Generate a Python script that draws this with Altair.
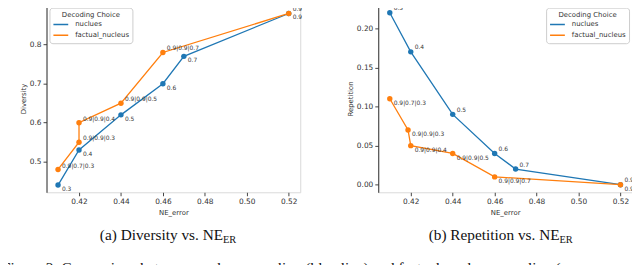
import altair as alt
import pandas as pd

# ---------------- data ----------------
series_names = ["nuclues", "factual_nucleus"]
series_colors = ["#1f77b4", "#ff7f0e"]

ne_nuc = [0.41, 0.42, 0.44, 0.46, 0.47, 0.52]
lab_nuc = ["0.3", "0.4", "0.5", "0.6", "0.7", "0.9"]
div_nuc = [0.44, 0.53, 0.62, 0.70, 0.77, 0.88]
rep_nuc = [0.22, 0.17, 0.09, 0.04, 0.02, 0.00]

lab_fac = ["0.9|0.7|0.3", "0.9|0.9|0.3", "0.9|0.9|0.4", "0.9|0.9|0.5", "0.9|0.9|0.7", "0.9"]
ne_fac_div = [0.41, 0.42, 0.42, 0.44, 0.46, 0.52]
div_fac = [0.48, 0.55, 0.60, 0.65, 0.78, 0.88]
ne_fac_rep = [0.41, 0.4187, 0.42, 0.44, 0.46, 0.52]
rep_fac = [0.11, 0.07, 0.05, 0.04, 0.01, 0.00]

x_ticks = [0.42, 0.44, 0.46, 0.48, 0.50, 0.52]
div_ticks = [0.5, 0.6, 0.7, 0.8, 0.9]
rep_ticks = [0.00, 0.05, 0.10, 0.15, 0.20]

cap_a = "(a) Diversity vs. NE"
cap_b = "(b) Repetition vs. NE"
cap_sub = "ER"
fig_caption = ("Figure 2: Comparison between nucleus sampling (blue line) and "
               "factual-nucleus sampling (orange line)")

W, H = 257, 190
FONT = "DejaVu Sans"
SERIF = "Liberation Serif"


def make_df(ne_a, val_a, lab_a, ne_b, val_b, lab_b):
    rows = []
    for i, (n, v, l) in enumerate(zip(ne_a, val_a, lab_a)):
        rows.append({"ne": n, "val": v, "label": l, "series": series_names[0], "idx": i})
    for i, (n, v, l) in enumerate(zip(ne_b, val_b, lab_b)):
        rows.append({"ne": n, "val": v, "label": l, "series": series_names[1], "idx": i})
    return pd.DataFrame(rows)


def anchor(xpos):
    # invisible frame rule: fixes the outer bounds of the drawing
    return alt.Chart(pd.DataFrame({"a": [0]})).mark_rule(
        opacity=0, strokeWidth=1
    ).encode(x=alt.value(xpos), x2=alt.value(xpos), y=alt.value(-20), y2=alt.value(290))


def panel(df, ydom, yticks, yfmt, ytitle, legend_orient, dy_nuc, dy_fac,
          cap_text, cap_x, extra):
    x = alt.X("ne:Q", title="NE_error",
              scale=alt.Scale(domain=[0.4045, 0.5255], nice=False, zero=False),
              axis=alt.Axis(values=x_ticks, format=".2f", domain=False))
    y = alt.Y("val:Q", title=ytitle,
              scale=alt.Scale(domain=ydom, nice=False, zero=False),
              axis=alt.Axis(values=yticks, format=yfmt, domainColor="#333"))
    color = alt.Color(
        "series:N",
        scale=alt.Scale(domain=series_names, range=series_colors),
        legend=alt.Legend(title="Decoding Choice", orient=legend_orient, offset=3),
    )
    base = alt.Chart(df)
    line = base.mark_line(strokeWidth=1.3).encode(x=x, y=y, color=color, order="idx:Q")
    pts = base.mark_point(filled=True, size=30, opacity=1).encode(x=x, y=y, color=color)
    txt_n = base.transform_filter(alt.datum.series == series_names[0]).mark_text(
        align="left", baseline="middle", dx=4, dy=dy_nuc, fontSize=6, font=FONT, color="#333"
    ).encode(x=x, y=y, text="label:N")
    txt_f = base.transform_filter(alt.datum.series == series_names[1]).mark_text(
        align="left", baseline="middle", dx=4, dy=dy_fac, fontSize=6, font=FONT, color="#333"
    ).encode(x=x, y=y, text="label:N")

    one = pd.DataFrame({"t": [cap_text], "s": [cap_sub]})
    top_rule = alt.Chart(one).mark_rule(color="#333", strokeWidth=1).encode(
        x=alt.value(0), x2=alt.value(W), y=alt.value(0))
    cap_main = alt.Chart(one).mark_text(
        align="right", baseline="alphabetic", font=SERIF, fontSize=15.5, color="#111"
    ).encode(x=alt.value(cap_x), y=alt.value(238.5), text="t:N")
    cap_s = alt.Chart(one).mark_text(
        align="left", baseline="alphabetic", font=SERIF, fontSize=10.5, color="#111"
    ).encode(x=alt.value(cap_x), y=alt.value(241.5), text="s:N")
    layers = [line, pts, txt_n, txt_f, top_rule, cap_main, cap_s] + extra
    return alt.layer(*layers).properties(width=W, height=H)


df_div = make_df(ne_nuc, div_nuc, lab_nuc, ne_fac_div, div_fac, lab_fac)
df_rep = make_df(ne_nuc, rep_nuc, lab_nuc, ne_fac_rep, rep_fac, lab_fac)

fig_df = pd.DataFrame({"t": [fig_caption]})
fig_text = alt.Chart(fig_df).mark_text(
    align="left", baseline="alphabetic", font=SERIF, fontSize=15.5, color="#111",
    limit=620, ellipsis=""
).encode(x=alt.value(-45), y=alt.value(272), text="t:N")

# page coords: left plot at x=46, right plot at x=382, plots' top at y=2
left = panel(df_div, [0.4215, 0.9025], div_ticks, ".1f", "Diversity", "top-left",
             4, -4, cap_a, 178.8, [fig_text, anchor(-50)])
right = panel(df_rep, [-0.0097, 0.2303], rep_ticks, ".2f", "Repetition", "top-right",
              -4.5, 4.5, cap_b, 183.6, [anchor(270)])

# bounds: x from -4 to 652 (page), y from -18 to 292 (page); svg starts at page (8, 8)
chart = alt.hconcat(left, right, spacing=79, bounds="flush").resolve_scale(
    color="independent"
).properties(
    padding={"left": -12, "top": -26, "right": -14, "bottom": -28},
    background="white",
).configure_view(
    stroke="#d9d9d9", strokeWidth=1
).configure_axis(
    labelFont=FONT, labelFontSize=7.5, labelColor="#333", labelFlush=False,
    labelPadding=2, titleFont=FONT, titleFontSize=7, titleFontWeight="normal",
    titleColor="#333", titlePadding=3, tickSize=3.5, tickColor="#444", grid=False,
).configure_legend(
    titleFont=FONT, titleFontSize=7, titleFontWeight="normal", titleColor="#333",
    titleAnchor="middle", titlePadding=2, labelFont=FONT, labelFontSize=7,
    labelColor="#333", labelOffset=6, symbolType="stroke", symbolSize=225,
    symbolStrokeWidth=1.5, clipHeight=10, rowPadding=1, padding=3,
    strokeColor="#cccccc", fillColor="white", cornerRadius=3,
)

chart.save("out.html", embed_options={"renderer": "svg", "actions": False})
